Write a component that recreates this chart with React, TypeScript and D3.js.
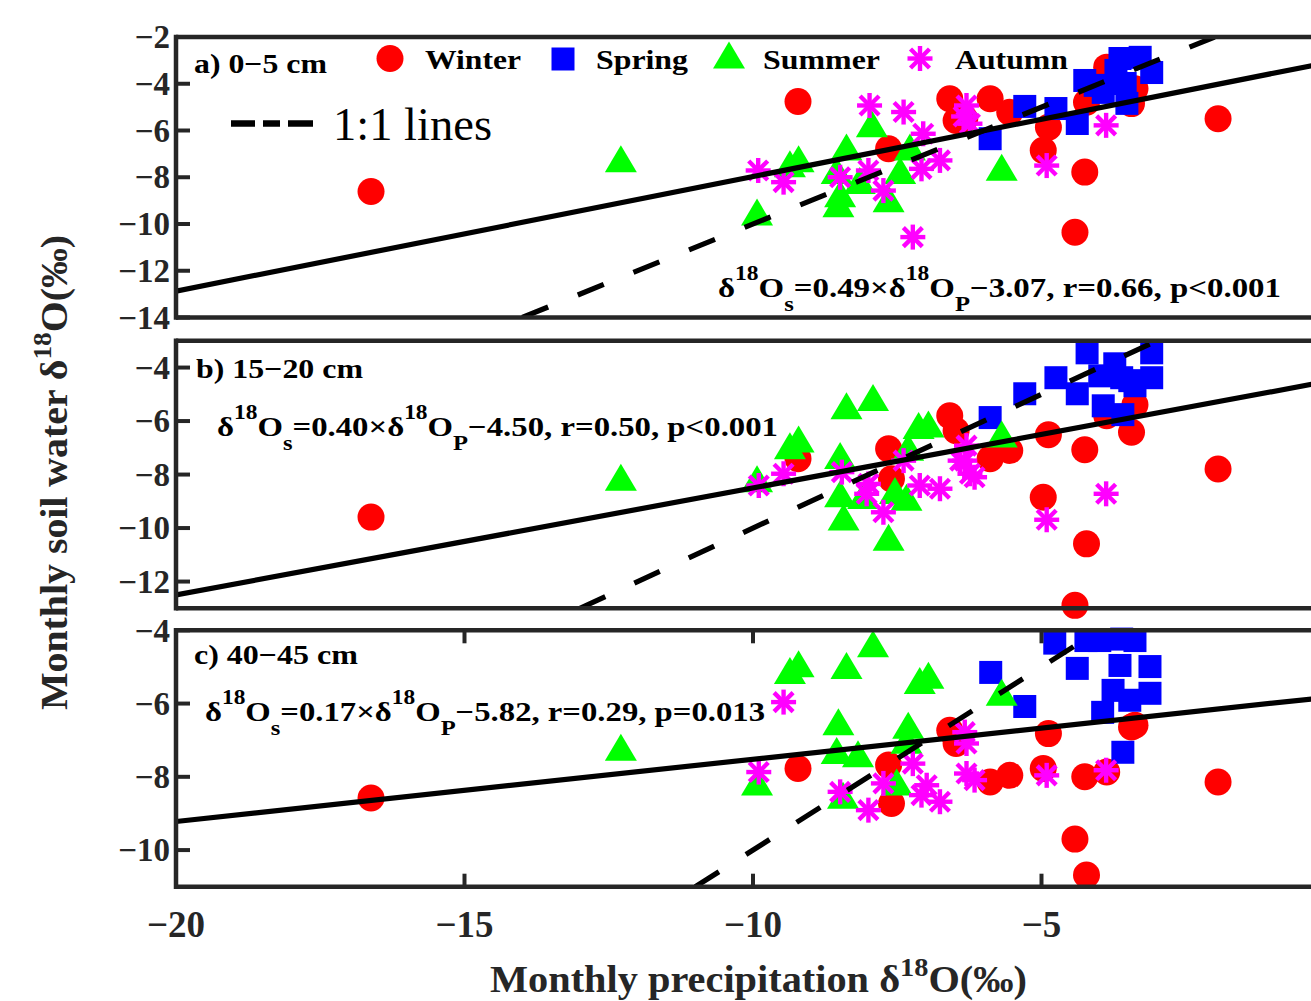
import React from 'react';
import * as d3 from 'd3';

// ---------- data ----------
const xTickValues = [-20, -15, -10, -5];
const yTicksA = [-14, -12, -10, -8, -6, -4, -2];
const yTicksB = [-12, -10, -8, -6, -4];
const yTicksC = [-10, -8, -6, -4];

const seasons = ['Winter', 'Spring', 'Summer', 'Autumn'];

// panel a) 0-5 cm
const winterAX = [-16.62, -9.22, -7.65, -6.59, -6.48, -6.33, -5.89, -5.55, -4.88, -4.97, -4.25, -4.42, -4.22, -3.87, -3.44, -3.38, -1.94];
const winterAY = [-8.61, -4.76, -6.78, -4.64, -5.57, -5.5, -4.64, -5.22, -5.86, -6.85, -7.78, -10.35, -4.79, -3.29, -4.85, -4.21, -5.5];
const springAX = [-5.89, -5.29, -4.75, -4.38, -4.25, -4.07, -3.93, -3.71, -3.64, -3.55, -3.52, -3.29, -3.09];
const springAY = [-6.35, -4.97, -5.06, -5.7, -3.86, -4.07, -4.37, -3.43, -2.92, -3.99, -4.84, -2.87, -3.52];
const summerAX = [-12.29, -9.93, -9.36, -9.21, -8.55, -8.49, -8.52, -8.38, -8.15, -7.94, -7.65, -7.45, -7.28, -5.69];
const summerAY = [-7.21, -9.49, -7.42, -7.21, -7.71, -8.71, -9.13, -6.71, -8.14, -5.71, -8.92, -7.71, -6.71, -7.57];
const autumnAX = [-9.91, -9.47, -8.49, -8.0, -7.98, -7.74, -7.39, -7.23, -7.08, -7.05, -6.76, -6.3, -6.24, -6.35, -4.91, -3.88];
const autumnAY = [-7.71, -8.21, -8.0, -7.71, -4.93, -8.57, -5.21, -10.56, -7.64, -6.14, -7.28, -4.93, -5.71, -5.4, -7.5, -5.78];

// panel b) 15-20 cm
const winterBX = [-16.62, -9.22, -7.65, -7.6, -6.59, -6.48, -5.89, -5.55, -4.88, -4.97, -4.25, -4.42, -4.22, -3.87, -3.44, -3.38, -1.94];
const winterBY = [-9.59, -7.41, -7.04, -8.16, -5.8, -6.36, -7.41, -7.1, -6.51, -8.85, -7.07, -12.89, -10.59, -5.8, -6.42, -5.39, -7.79];
const springBX = [-5.89, -5.29, -4.75, -4.38, -4.21, -3.99, -3.93, -3.73, -3.61, -3.59, -3.47, -3.38, -3.09, -3.09];
const springBY = [-5.87, -4.98, -4.38, -4.98, -3.45, -4.31, -5.43, -3.86, -4.38, -5.76, -4.49, -4.68, -3.45, -4.38];
const summerBX = [-12.29, -9.93, -9.36, -9.21, -8.49, -8.38, -7.92, -8.49, -8.43, -7.65, -7.13, -6.96, -7.31, -7.34, -8.09, -7.54, -5.69];
const summerBY = [-8.1, -8.16, -6.92, -6.67, -7.29, -5.43, -5.12, -8.72, -9.59, -10.34, -6.17, -6.11, -6.98, -8.85, -8.78, -8.6, -6.48];
const autumnBX = [-9.9, -9.47, -8.46, -8.03, -8.0, -7.74, -7.39, -7.11, -6.76, -6.41, -6.3, -6.33, -6.24, -6.16, -4.91, -3.88];
const autumnBY = [-8.41, -7.97, -7.91, -8.72, -8.35, -9.41, -7.48, -8.41, -8.53, -7.48, -6.92, -7.48, -7.97, -8.1, -9.69, -8.72];

// panel c) 40-45 cm
const winterCX = [-16.62, -9.22, -7.65, -7.6, -6.59, -6.48, -5.89, -5.55, -4.88, -4.97, -4.25, -4.42, -4.22, -3.87, -3.44, -3.38, -1.94];
const winterCY = [-8.58, -7.77, -7.68, -8.73, -6.73, -7.09, -8.14, -7.96, -6.82, -7.77, -8.0, -9.7, -10.68, -7.87, -6.64, -6.59, -8.14];
const springCX = [-5.88, -5.29, -4.77, -4.38, -4.23, -3.99, -3.94, -3.76, -3.64, -3.61, -3.59, -3.47, -3.38, -3.12, -3.12];
const springCY = [-5.15, -6.08, -4.35, -5.04, -4.28, -4.28, -6.24, -5.64, -4.96, -4.24, -7.33, -5.91, -4.28, -4.99, -5.72];
const summerCX = [-12.29, -9.93, -9.36, -9.21, -8.52, -8.38, -7.92, -8.55, -8.18, -8.44, -7.11, -6.96, -7.31, -7.34, -7.51, -5.69];
const summerCY = [-7.19, -8.14, -5.1, -4.91, -6.5, -4.96, -4.37, -7.28, -7.37, -8.5, -5.37, -5.23, -6.59, -7.0, -8.14, -5.69];
const autumnCX = [-9.47, -9.9, -8.49, -8.0, -7.74, -7.23, -6.99, -7.08, -6.76, -6.33, -6.3, -6.3, -6.16, -4.91, -3.88];
const autumnCY = [-5.96, -7.87, -8.41, -8.91, -8.18, -7.64, -8.23, -8.5, -8.68, -6.78, -7.09, -7.91, -8.09, -7.96, -7.82];

// regression fits
const slopes = [0.49, 0.40, 0.17];
const intercepts = [-3.07, -4.50, -5.82];
const rValues = ['0.66', '0.50', '0.29'];
const pValues = ['p<0.001', 'p<0.001', 'p=0.013'];
const panelLabels = ['a) 0\u22125 cm', 'b) 15\u221220 cm', 'c) 40\u221245 cm'];
const yDomains = [[-14, -2], [-13, -3], [-11, -4]];

// ---------- layout ----------
const FONT = '"Liberation Serif", "Times New Roman", Times, serif';
const BORDER = '#262626';
const COLORS = { Winter: '#ff0000', Spring: '#0000ff', Summer: '#00ff00', Autumn: '#ff00ff' };
const X0 = 176;
const x = d3.scaleLinear().domain([-20, 0]).range([X0, X0 + 20 * 57.7]);

const panels = [
  {
    top: 37, bottom: 317.5, ticks: yTicksA, xTicks: false,
    series: [[winterAX, winterAY], [springAX, springAY], [summerAX, summerAY], [autumnAX, autumnAY]],
    label: { x: 194, y: 73, len: 133 },
    eq: { x: 718, y: 297, len: 563 },
  },
  {
    top: 340.8, bottom: 608.3, ticks: yTicksB, xTicks: false,
    series: [[winterBX, winterBY], [springBX, springBY], [summerBX, summerBY], [autumnBX, autumnBY]],
    label: { x: 196, y: 378, len: 167 },
    eq: { x: 217, y: 436, len: 561 },
  },
  {
    top: 630.3, bottom: 886.7, ticks: yTicksC, xTicks: true,
    series: [[winterCX, winterCY], [springCX, springCY], [summerCX, summerCY], [autumnCX, autumnCY]],
    label: { x: 194, y: 664, len: 164 },
    eq: { x: 205, y: 721, len: 560 },
  },
];

function Marker({ season, cx, cy }: { season: string; cx: number; cy: number }) {
  const c = (COLORS as any)[season];
  if (season === 'Winter') return <circle cx={cx} cy={cy} r={13.5} fill={c} />;
  if (season === 'Spring') return <rect x={cx - 11.5} y={cy - 11.5} width={23} height={23} fill={c} />;
  if (season === 'Summer') {
    const w = 16, h = 13.5;
    return <path d={`M${cx},${cy - h}L${cx + w},${cy + h}L${cx - w},${cy + h}Z`} fill={c} />;
  }
  const r = 12.5, d = 9.5;
  return (
    <g stroke={c} strokeWidth={4.4} strokeLinecap="butt">
      <line x1={cx} y1={cy - r} x2={cx} y2={cy + r} />
      <line x1={cx - r} y1={cy} x2={cx + r} y2={cy} />
      <line x1={cx - d} y1={cy - d} x2={cx + d} y2={cy + d} />
      <line x1={cx - d} y1={cy + d} x2={cx + d} y2={cy - d} />
    </g>
  );
}

function Equation({ x0, y0, len, i }: { x0: number; y0: number; len: number; i: number }) {
  const sup = 17, sub = 14;
  return (
    <text x={x0} y={y0} fontFamily={FONT} fontWeight="bold" fontSize={28} fill="#000"
      textLength={len} lengthAdjust="spacingAndGlyphs">
      δ<tspan dy={-sup} fontSize={20}>18</tspan>
      <tspan dy={sup}>O</tspan>
      <tspan dy={sub} fontSize={21}>s</tspan>
      <tspan dy={-sub}>{`=${slopes[i].toFixed(2)}×δ`}</tspan>
      <tspan dy={-sup} fontSize={20}>18</tspan>
      <tspan dy={sup}>O</tspan>
      <tspan dy={sub} fontSize={21}>P</tspan>
      <tspan dy={-sub}>{`\u2212${Math.abs(intercepts[i]).toFixed(2)}, r=${rValues[i]}, ${pValues[i]}`}</tspan>
    </text>
  );
}

export default function App() {
  return (
    <svg width={1311} height={1001} style={{ position: 'absolute', left: 0, top: 0, background: '#fff' }}>
      <rect width={1311} height={1001} fill="#fff" />
      <defs>
        {panels.map((p, i) => (
          <clipPath id={`clip${i}`} key={i}>
            <rect x={X0} y={p.top} width={1311 - X0 + 40} height={p.bottom - p.top} />
          </clipPath>
        ))}
      </defs>
      {panels.map((p, i) => {
        const y = d3.scaleLinear().domain(yDomains[i]).range([p.bottom, p.top]);
        const [ymin, ymax] = yDomains[i];
        const fitLine = d3.line<number>().x((v) => x(v)).y((v) => y(slopes[i] * v + intercepts[i]));
        const oneLine = d3.line<number>().x((v) => x(v)).y((v) => y(v));
        return (
          <g key={i}>
            {/* markers */}
            {p.series.map((s, si) =>
              s[0].map((xv, k) => (
                <Marker key={`${si}-${k}`} season={seasons[si]} cx={x(xv)} cy={y(s[1][k])} />
              ))
            )}
            {/* lines */}
            <g clipPath={`url(#clip${i})`}>
              <path d={fitLine([-20, 0]) || ''} stroke="#000" strokeWidth={5.2} fill="none" />
              <path d={oneLine([ymin, ymax]) || ''} stroke="#000" strokeWidth={5.2} fill="none"
                strokeDasharray="28 32" />
            </g>
            {/* frame */}
            <line x1={X0} y1={p.top} x2={1311} y2={p.top} stroke={BORDER} strokeWidth={4.5} />
            <line x1={X0} y1={p.bottom} x2={1311} y2={p.bottom} stroke={BORDER} strokeWidth={4.5} />
            <line x1={X0} y1={p.top - 2.25} x2={X0} y2={p.bottom + 2.25} stroke={BORDER} strokeWidth={4.5} />
            {/* y ticks */}
            {p.ticks.map((t) => (
              <g key={t}>
                <line x1={X0} x2={X0 + 14} y1={y(t)} y2={y(t)} stroke={BORDER} strokeWidth={4} />
                <text x={170} y={y(t)} textAnchor="end" dy="0.34em"
                  fontFamily={FONT} fontWeight="bold" fontSize={33} fill={BORDER}>
                  {`\u2212${Math.abs(t)}`}
                </text>
              </g>
            ))}
            {/* x ticks (inner) */}
            {p.xTicks && xTickValues.map((t) => (
              <g key={t}>
                <line x1={x(t)} x2={x(t)} y1={p.top} y2={p.top + 13} stroke={BORDER} strokeWidth={4} />
                <line x1={x(t)} x2={x(t)} y1={p.bottom} y2={p.bottom - 13} stroke={BORDER} strokeWidth={4} />
              </g>
            ))}
            {/* panel label */}
            <text x={p.label.x} y={p.label.y} fontFamily={FONT} fontWeight="bold" fontSize={28}
              textLength={p.label.len} lengthAdjust="spacingAndGlyphs">{panelLabels[i]}</text>
            <Equation x0={p.eq.x} y0={p.eq.y} len={p.eq.len} i={i} />
          </g>
        );
      })}

      {/* x tick labels */}
      {xTickValues.map((t) => (
        <text key={t} x={x(t)} y={937} textAnchor="middle"
          fontFamily={FONT} fontWeight="bold" fontSize={37} fill={BORDER}>
          {`\u2212${Math.abs(t)}`}
        </text>
      ))}

      {/* legend */}
      <Marker season="Winter" cx={390} cy={58.5} />
      <text x={425} y={69} fontFamily={FONT} fontWeight="bold" fontSize={28} textLength={96} lengthAdjust="spacingAndGlyphs">Winter</text>
      <Marker season="Spring" cx={563} cy={59} />
      <text x={596} y={69} fontFamily={FONT} fontWeight="bold" fontSize={28} textLength={92} lengthAdjust="spacingAndGlyphs">Spring</text>
      <Marker season="Summer" cx={729} cy={55} />
      <text x={763} y={69} fontFamily={FONT} fontWeight="bold" fontSize={28} textLength={117} lengthAdjust="spacingAndGlyphs">Summer</text>
      <Marker season="Autumn" cx={920} cy={58.5} />
      <text x={955} y={69} fontFamily={FONT} fontWeight="bold" fontSize={28} textLength={113} lengthAdjust="spacingAndGlyphs">Autumn</text>

      <line x1={231} x2={313} y1={123.5} y2={123.5} stroke="#000" strokeWidth={6.5} strokeDasharray="24 8 17 8 25 100" />
      <text x={333} y={140} fontFamily={FONT} fontSize={46} textLength={159} lengthAdjust="spacingAndGlyphs">1:1 lines</text>

      {/* axis titles */}
      <text x={490} y={992} fontFamily={FONT} fontWeight="bold" fontSize={37} fill={BORDER}
        textLength={537} lengthAdjust="spacingAndGlyphs">
        Monthly precipitation δ<tspan dy={-16} fontSize={26}>18</tspan><tspan dy={16}>O(‰)</tspan>
      </text>
      <text transform="translate(67,710) rotate(-90)" fontFamily={FONT} fontWeight="bold" fontSize={38} fill={BORDER}
        textLength={475} lengthAdjust="spacingAndGlyphs">
        Monthly soil water δ<tspan dy={-16} fontSize={26}>18</tspan><tspan dy={16}>O(‰)</tspan>
      </text>
    </svg>
  );
}
